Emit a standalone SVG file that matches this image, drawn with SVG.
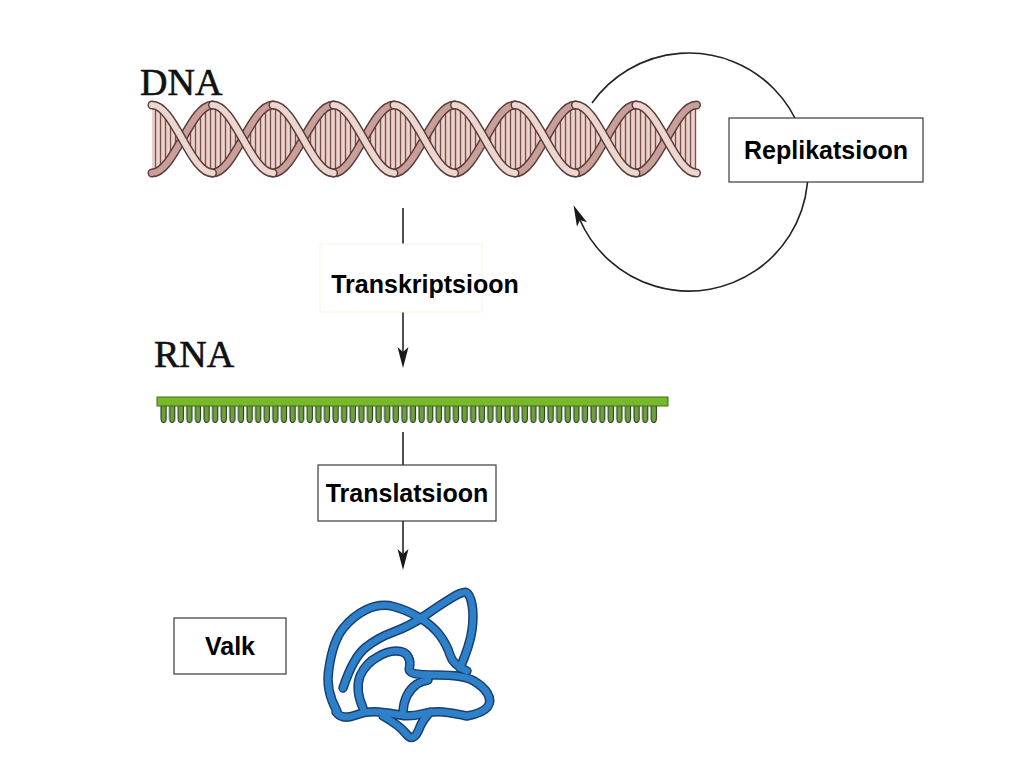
<svg xmlns="http://www.w3.org/2000/svg" width="1024" height="768" viewBox="0 0 1024 768">
<style>
.lbl{font-family:"Liberation Sans",Arial,sans-serif;font-weight:bold;font-size:25px;fill:#000;text-anchor:middle}
.big{font-family:"Liberation Serif","Times New Roman",serif;font-size:38px;fill:#111;stroke:#111;stroke-width:0.6}
.box{fill:#fff;stroke:#3a3a3a;stroke-width:1.2}
.conn{stroke:#222;stroke-width:1.6;fill:none}
.so{fill:none;stroke:#5b3b38;stroke-width:9;stroke-linecap:round}
.sf{fill:none;stroke:#ecd6d0;stroke-width:6.2;stroke-linecap:round}
.sb{fill:none;stroke:#c9a099;stroke-width:6.2;stroke-linecap:round}
.po{fill:none;stroke:#163f73;stroke-width:9.5;stroke-linecap:round;stroke-linejoin:round}
.pi{fill:none;stroke:#2e80c8;stroke-width:6.6;stroke-linecap:round;stroke-linejoin:round}
</style>
<defs>
<marker id="ah" markerUnits="userSpaceOnUse" markerWidth="24" markerHeight="16" viewBox="0 0 24 16" refX="5" refY="8" orient="auto">
<path d="M0,2.5 L21,8 L0,13.5 L5,8 Z" fill="#1a1a1a"/>
</marker>
<pattern id="rungs" patternUnits="userSpaceOnUse" x="0" y="0" width="5" height="10">
<rect width="5" height="10" fill="#dcbab4"/>
<rect x="0" width="0.9" height="10" fill="#6d4440"/>
<rect x="2.6" width="1" height="10" fill="#f6ecea"/>
</pattern>
<pattern id="teeth" patternUnits="userSpaceOnUse" x="160" y="406" width="8.6" height="18">
<path d="M1,-1 V12 Q1,16.5 3.6,16.5 Q6.2,16.5 6.2,12 V-1" fill="#6f9f42" stroke="#243d12" stroke-width="1.1"/>
</pattern>
<path id="front" d="M152,105C174.1,105 190.4,173 212.5,173M212.5,105C234.6,105 250.9,173 273,173M273,105C295.1,105 311.4,173 333.5,173M333.5,105C355.6,105 371.9,173 394,173M394,105C416.1,105 432.4,173 454.5,173M454.5,105C476.6,105 492.9,173 515,173M515,105C537.1,105 553.4,173 575.5,173M575.5,105C597.6,105 613.9,173 636,173M636,105C658.1,105 674.4,173 696.5,173"/>
<path id="back" d="M152,173C174.1,173 190.4,105 212.5,105M212.5,173C234.6,173 250.9,105 273,105M273,173C295.1,173 311.4,105 333.5,105M333.5,173C355.6,173 371.9,105 394,105M394,173C416.1,173 432.4,105 454.5,105M454.5,173C476.6,173 492.9,105 515,105M515,173C537.1,173 553.4,105 575.5,105M575.5,173C597.6,173 613.9,105 636,105M636,173C658.1,173 674.4,105 696.5,105"/>
<path id="prot" d="M337,711 Q325,690 329,668 Q333,641 343,628.5 Q353,616 366.5,609.5 Q380,603 393.5,606.5 Q407,610 420,618 Q433,626 440,635.5 Q447,645 450,655 Q453,665 467,671 M343,688 Q353,658 365,648 Q377,638 393.5,632 Q410,626 425,615.5 Q440,605 451.5,598 Q463,591 466.5,592.5 Q470,594 472,604.5 Q474,615 472,630 Q470,645 460,668 M363,708 Q355,690 360,676 Q366,663 377.5,657 Q387,651 396,651 Q405,651 408,656.5 Q411,662 409.5,667 Q408,672 414,673.5 Q420,675 437,675 Q463,675 473,680.5 Q483,686 487.5,693.5 Q492,701 487.5,707 Q483,713 467,716 M336,712 Q342,720 354.5,715.5 Q367,711 378.5,712 Q390,713 400,715 Q410,717 421.5,714 Q433,711 443,712 Q453,713 467,716 M383,716 Q400,726 405,732.5 Q410,739 413.5,737 Q417,735 419.5,728 Q422,721 430,712 M403,712 Q404,693 417,684 Q422,681 428,680"/>
</defs>
<rect width="1024" height="768" fill="#fff"/>

<g id="dna">
<text class="big" x="140" y="95">DNA</text>
<path fill="url(#rungs)" d="M152,105C174.1,105 190.4,173 212.5,173L212.5,105C190.4,105 174.1,173 152,173Z M212.5,105C234.6,105 250.9,173 273,173L273,105C250.9,105 234.6,173 212.5,173Z M273,105C295.1,105 311.4,173 333.5,173L333.5,105C311.4,105 295.1,173 273,173Z M333.5,105C355.6,105 371.9,173 394,173L394,105C371.9,105 355.6,173 333.5,173Z M394,105C416.1,105 432.4,173 454.5,173L454.5,105C432.4,105 416.1,173 394,173Z M454.5,105C476.6,105 492.9,173 515,173L515,105C492.9,105 476.6,173 454.5,173Z M515,105C537.1,105 553.4,173 575.5,173L575.5,105C553.4,105 537.1,173 515,173Z M575.5,105C597.6,105 613.9,173 636,173L636,105C613.9,105 597.6,173 575.5,173Z M636,105C658.1,105 674.4,173 696.5,173L696.5,105C674.4,105 658.1,173 636,173Z"/>
<use href="#back" class="so"/>
<use href="#back" class="sb"/>
<use href="#front" class="so"/>
<use href="#front" class="sf"/>
</g>

<g id="rna">
<text class="big" x="154" y="367">RNA</text>
<rect x="160" y="405" width="498" height="19" fill="url(#teeth)"/>
<rect x="157" y="397" width="511" height="9" fill="#78b82b" stroke="#3f6e17" stroke-width="1"/>
</g>

<g id="protein">
<use href="#prot" class="po"/>
<use href="#prot" class="pi"/>
</g>

<g id="connectors">
<path class="conn" d="M403,208 V245"/>
<path class="conn" d="M403,312 V352" marker-end="url(#ah)"/>
<path class="conn" d="M403,432 V465"/>
<path class="conn" d="M403,521 V554" marker-end="url(#ah)"/>
<path class="conn" d="M592,103 A119,119 0 1 1 580,220" marker-end="url(#ah)"/>
</g>

<g id="transkriptsioon">
<rect x="320" y="244" width="162" height="68" fill="#fff" stroke="#f8f3e2" stroke-width="1"/>
<text class="lbl" x="425" y="293">Transkriptsioon</text>
</g>

<g id="translatsioon">
<rect class="box" x="318" y="465" width="178" height="56"/>
<text class="lbl" x="407" y="502">Translatsioon</text>
</g>

<g id="replikatsioon">
<rect class="box" x="729" y="118" width="194" height="64"/>
<text class="lbl" x="826" y="159">Replikatsioon</text>
</g>

<g id="valk">
<rect class="box" x="174" y="618" width="112" height="56"/>
<text class="lbl" x="230" y="655">Valk</text>
</g>
</svg>
